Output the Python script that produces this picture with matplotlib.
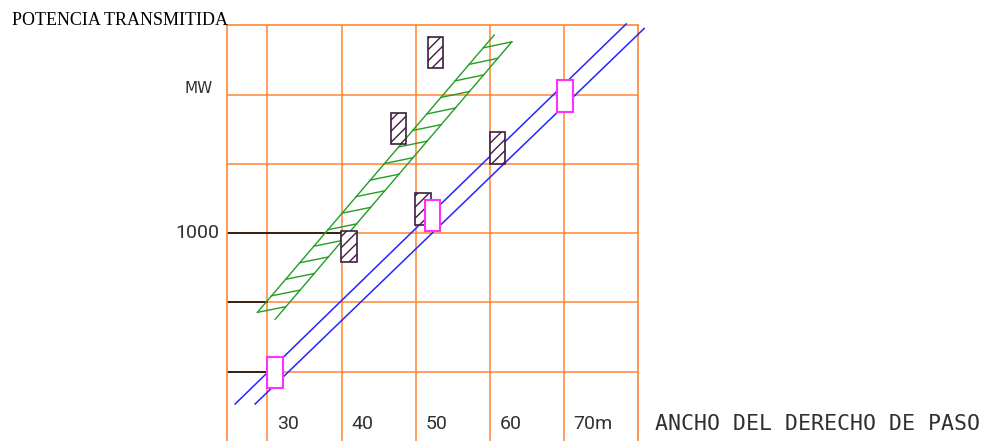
import matplotlib as mpl
mpl.use('Agg')
import numpy as np
import matplotlib.pyplot as plt
from matplotlib.patches import Rectangle

###########################################
## datos
X_GRID = [30, 40, 50, 60, 70]
Y_GRID = [1, 2, 3, 4, 5]
X_LABELS = ['30', '40', '50', '60', '70m']
Y_LABEL_POS = 3
Y_LABEL = '1000'

# escalas (lineas negras a la izquierda): nivel y extremo derecho
REF_Y = [1, 2, 3]
REF_XEND = [30, 30, 40]

# rectangulos rayados (centros)
HATCH_X = [52.7, 47.7, 61.05, 51.0, 41.0]
HATCH_Y = [5.61, 4.51, 4.23, 3.35, 2.81]

# rectangulos magenta (centros)
PINK_X = [31.05, 52.27, 70.2]
PINK_Y = [0.99, 3.256, 4.98]

# rectas azules
BLUE1_X = [25.64, 78.41]
BLUE1_Y = [0.534, 6.02]
BLUE2_X = [28.34, 80.84]
BLUE2_Y = [0.534, 5.955]

# banda verde
GREEN_L_X = [28.65, 60.59]
GREEN_L_Y = [1.857, 5.859]
GREEN_R_X = [31.04, 62.98]
GREEN_R_Y = [1.756, 5.762]

###########################################
ORANGE = '#FF8533'
BLUE = '#2525FF'
GREEN = '#229E22'
PURPLE = '#3E1E40'
PINK = '#FF30FF'
TXT = '#303030'

fig = plt.figure(figsize=(9.92, 4.41), dpi=100)
ax = fig.add_axes([0.2285, 0.0, 0.415, 0.9426])
ax.set_xlim(24.5, 80.05)
ax.set_ylim(0, 6)
ax.set_xticks([])
ax.set_yticks([])
for s in ['left', 'top', 'right']:
  ax.spines[s].set_color(ORANGE)
  ax.spines[s].set_linewidth(1.2)
ax.spines['bottom'].set_visible(False)

# rejilla
for x in X_GRID:
  ax.axvline(x, color=ORANGE, lw=1.1, zorder=1)
for y in Y_GRID:
  ax.axhline(y, color=ORANGE, lw=1.1, zorder=1)

# lineas negras de referencia
for y, xe in zip(REF_Y, REF_XEND):
  ax.plot([24.5, xe], [y, y], color='black', lw=1.1, zorder=2)

# banda verde rayada
ax.plot(GREEN_L_X, GREEN_L_Y, color=GREEN, lw=1.0, zorder=3)
ax.plot(GREEN_R_X, GREEN_R_Y, color=GREEN, lw=1.0, zorder=3)
NH = 17
t_top = 0.954
s_bot = 0.0457
for i in range(NH):
  t = t_top * i / (NH - 1)
  s = s_bot + (1 - s_bot) * i / (NH - 1)
  lx = GREEN_L_X[0] + t * (GREEN_L_X[1] - GREEN_L_X[0])
  ly = GREEN_L_Y[0] + t * (GREEN_L_Y[1] - GREEN_L_Y[0])
  rx = GREEN_R_X[0] + s * (GREEN_R_X[1] - GREEN_R_X[0])
  ry = GREEN_R_Y[0] + s * (GREEN_R_Y[1] - GREEN_R_Y[0])
  ax.plot([lx, rx], [ly, ry], color=GREEN, lw=1.0, zorder=3)

# rectas azules
ax.plot(BLUE1_X, BLUE1_Y, color=BLUE, lw=1.1, zorder=3, clip_on=False)
ax.plot(BLUE2_X, BLUE2_Y, color=BLUE, lw=1.1, zorder=3, clip_on=False)

# rectangulos rayados
W, H = 2.1, 0.455
for x, y in zip(HATCH_X, HATCH_Y):
  ax.add_patch(Rectangle((x - W / 2, y - H / 2), W, H, facecolor='white',
                         edgecolor=PURPLE, hatch='///', lw=1.2, zorder=4))

# rectangulos magenta
W2, H2 = 2.15, 0.45
for x, y in zip(PINK_X, PINK_Y):
  ax.add_patch(Rectangle((x - W2 / 2, y - H2 / 2), W2, H2, facecolor='white',
                         edgecolor=PINK, lw=1.5, zorder=5))

# textos
for x, lab in zip(X_GRID, X_LABELS):
  ax.text(x + 1.3, 0.24, lab, ha='left', va='center', fontsize=14,
          family='Roboto', color=TXT)
ax.text(82.3, 0.24, 'ANCHO DEL DERECHO DE PASO', ha='left', va='center',
        fontsize=15.5, family='DejaVu Sans Mono', color=TXT, clip_on=False)
ax.text(23.5, Y_LABEL_POS, Y_LABEL, ha='right', va='center', fontsize=14,
        family='Roboto', color=TXT, clip_on=False)
ax.text(22.6, 5.09, 'MW', ha='right', va='center', fontsize=11,
        family='DejaVu Sans', color=TXT, clip_on=False)
fig.text(12 / 992, 1 - 20.8 / 441, 'POTENCIA TRANSMITIDA', ha='left', va='center',
         fontsize=13, family='Liberation Serif', color='black')

plt.savefig('out.png', dpi=100)
plt.close()
